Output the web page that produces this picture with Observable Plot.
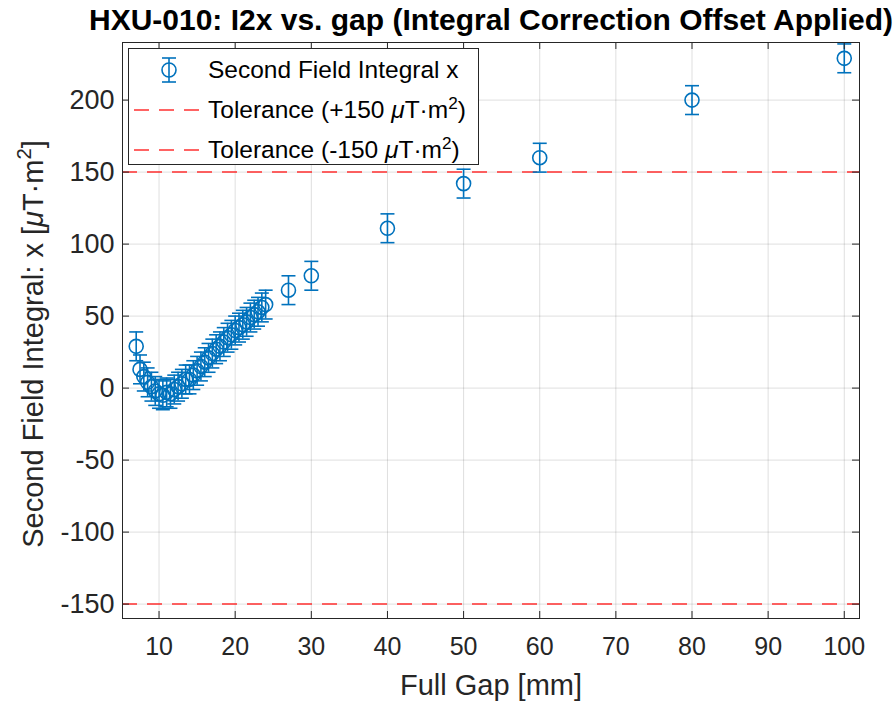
<!DOCTYPE html>
<html>
<head>
<meta charset="utf-8">
<script src="https://cdn.jsdelivr.net/npm/d3@7"></script>
<script src="https://cdn.jsdelivr.net/npm/@observablehq/plot@0.6"></script>
<style>
  html, body { margin: 0; padding: 0; background: white; }
  #wrap { position: relative; width: 896px; height: 708px; font-family: "Liberation Sans", Arial, Helvetica, sans-serif; color: #262626; }
  #chart { position: absolute; left: 0; top: 0; }
  #ylabel { position: absolute; left: 33px; top: 344px; transform: translate(-50%, -50%) rotate(-90deg); white-space: nowrap; font-size: 29px; line-height: 1; }
  #ylabel sup { font-size: 0.7em; vertical-align: 0.55em; line-height: 0; }
  #legend { position: absolute; left: 128px; top: 48px; width: 351px; height: 117px; border: 1px solid #262626; background: white; box-sizing: border-box; }
  .lrow { position: absolute; left: 0; height: 40px; width: 100%; display: flex; align-items: center; }
  .lrow svg { position: absolute; left: 0; top: 0; }
  .ltext { position: absolute; left: 79px; font-size: 24.5px; white-space: nowrap; color: #000; }
  .ltext sup { font-size: 0.7em; vertical-align: 0.55em; line-height: 0; }
</style>
</head>
<body>
<div id="wrap">
  <div id="chart"></div>
  <div id="ylabel">Second Field Integral: x [<i>μ</i>T·m<sup>2</sup>]</div>
  <div id="legend">
    <div class="lrow" style="top:1px">
      <svg width="80" height="40"><line x1="40" x2="40" y1="8" y2="32" stroke="#0072BD" stroke-width="1.6"/><line x1="33" x2="47" y1="8" y2="8" stroke="#0072BD" stroke-width="1.6"/><line x1="33" x2="47" y1="32" y2="32" stroke="#0072BD" stroke-width="1.6"/><circle cx="40" cy="20" r="7" fill="none" stroke="#0072BD" stroke-width="1.6"/></svg>
      <span class="ltext">Second Field Integral x</span>
    </div>
    <div class="lrow" style="top:41px">
      <svg width="80" height="40"><line x1="5" x2="75" y1="20" y2="20" stroke="#ff3030" stroke-width="1.5" stroke-dasharray="15,10"/></svg>
      <span class="ltext">Tolerance (+150 <i>μ</i>T·m<sup>2</sup>)</span>
    </div>
    <div class="lrow" style="top:81px">
      <svg width="80" height="40"><line x1="5" x2="75" y1="20" y2="20" stroke="#ff3030" stroke-width="1.5" stroke-dasharray="15,10"/></svg>
      <span class="ltext">Tolerance (-150 <i>μ</i>T·m<sup>2</sup>)</span>
    </div>
  </div>
</div>
<script>
// ---- data ----
const gaps = [7, 7.5, 8, 8.5, 9, 9.5, 10, 10.5, 11, 11.5, 12, 12.5, 13, 13.5, 14, 14.5, 15, 15.5, 16, 16.5, 17, 17.5, 18, 18.5, 19, 19.5, 20, 20.5, 21, 21.5, 22, 22.5, 23, 23.5, 24, 27, 30, 40, 50, 60, 80, 100];
const i2x = [29, 13, 8, 4, 1, -2, -4, -5, -3, -4, -1, 1, 3, 6, 6, 9, 12, 15, 18, 21, 24, 27, 29, 32, 35, 37, 40, 42, 44, 46, 49, 51, 53, 56, 58, 68, 78, 111, 142, 160, 200, 229];
const err = gaps.map(() => 10);
const xTicks = [10, 20, 30, 40, 50, 60, 70, 80, 90, 100];
const yTicks = [-150, -100, -50, 0, 50, 100, 150, 200];
const tolerance = [150, -150];
const titleText = "HXU-010: I2x vs. gap (Integral Correction Offset Applied)";
const xLabel = "Full Gap [mm]";

const data = gaps.map((g, i) => ({gap: g, v: i2x[i], e: err[i]}));

const blue = "#0072BD";
const cap = {
  draw(ctx, size) {
    const r = Math.sqrt(size / Math.PI);
    ctx.moveTo(-r, 0);
    ctx.lineTo(r, 0);
  }
};

const W = 896, H = 708, mL = 122, mR = 37, mT = 42, mB = 90;
const pw = W - mL - mR, ph = H - mT - mB, tl = 7;
const fmt = d => String(d);

const chart = Plot.plot({
  width: W, height: H,
  marginLeft: mL, marginRight: mR, marginTop: mT, marginBottom: mB,
  x: {domain: [5.2, 102]},
  y: {domain: [-160, 240]},
  style: {fontFamily: "'Liberation Sans', Arial, Helvetica, sans-serif", color: "#262626", background: "white", overflow: "visible"},
  marks: [
    Plot.gridX(xTicks, {stroke: "#262626", strokeOpacity: 0.15, strokeWidth: 1}),
    Plot.gridY(yTicks, {stroke: "#262626", strokeOpacity: 0.15, strokeWidth: 1}),
    Plot.ruleY(tolerance, {stroke: "#ff3030", strokeWidth: 1.5, strokeDasharray: "15,10"}),
    Plot.ruleX(data, {x: "gap", y1: d => d.v - d.e, y2: d => d.v + d.e, stroke: blue, strokeWidth: 1.6}),
    Plot.dot(data, {x: "gap", y: d => d.v + d.e, symbol: cap, r: 7, stroke: blue, strokeWidth: 1.6, fill: "none"}),
    Plot.dot(data, {x: "gap", y: d => d.v - d.e, symbol: cap, r: 7, stroke: blue, strokeWidth: 1.6, fill: "none"}),
    Plot.dot(data, {x: "gap", y: "v", r: 7, stroke: blue, strokeWidth: 1.6, fill: "none"}),
    Plot.axisX(xTicks, {tickSize: 0, tickPadding: 19, fontSize: 25, label: null, tickFormat: fmt}),
    Plot.axisY(yTicks, {tickSize: 0, tickPadding: 8, fontSize: 27, label: null, tickFormat: fmt}),
    Plot.tickX(xTicks, {x: d => d, insetTop: ph - tl, stroke: "#262626"}),
    Plot.tickX(xTicks, {x: d => d, insetBottom: ph - tl, stroke: "#262626"}),
    Plot.tickY(yTicks, {y: d => d, insetRight: pw - tl, stroke: "#262626"}),
    Plot.tickY(yTicks, {y: d => d, insetLeft: pw - tl, stroke: "#262626"}),
    Plot.frame({stroke: "#262626", strokeWidth: 1}),
    Plot.text([titleText], {frameAnchor: "top", dy: -34, fontSize: 30, fontWeight: "bold", fill: "#000"}),
    Plot.text([xLabel], {frameAnchor: "bottom", dy: 76, fontSize: 29, fill: "#262626"})
  ]
});
document.getElementById("chart").appendChild(chart);
</script>
</body>
</html>
